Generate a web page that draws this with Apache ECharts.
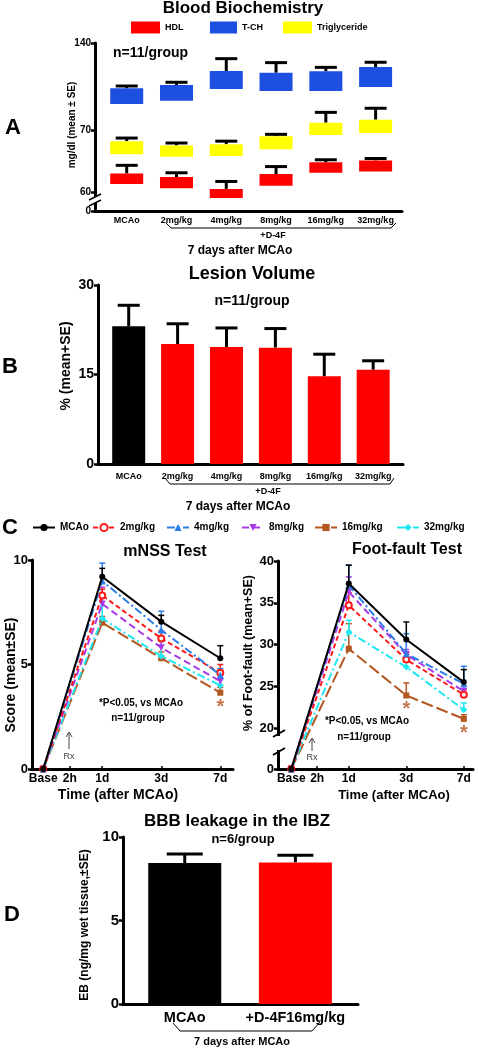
<!DOCTYPE html>
<html><head><meta charset="utf-8">
<script src="https://cdn.jsdelivr.net/npm/echarts@6/dist/echarts.min.js"></script>
<style>html,body{margin:0;padding:0;background:#fff}#c{width:478px;height:1050px}</style>
</head><body><div id="c"></div>
<script>
// ---------------- DATA ----------------
// Panel A: Blood biochemistry (floating boxes low..high, whisker = SE above)
const groupsA = ['MCAo', '2mg/kg', '4mg/kg', '8mg/kg', '16mg/kg', '32mg/kg'];
const hdlLow  = [61.3, 60.6, 41.0, 61.0, 63.1, 63.3];
const hdlHigh = [63.0, 62.4, 60.5, 62.9, 64.8, 65.1];
const hdlSE   = [1.3, 0.7, 1.2, 1.2, 0.4, 0.3];
const tchLow  = [90.9, 93.6, 103.0, 101.4, 101.4, 104.6];
const tchHigh = [103.5, 106.2, 117.5, 116.1, 117.2, 120.7];
const tchSE   = [1.9, 2.2, 9.9, 8.1, 3.2, 3.8];
const tgLow   = [66.1, 65.7, 65.8, 66.9, 69.2, 69.5];
const tgHigh  = [68.2, 67.5, 67.7, 69.0, 75.9, 78.3];
const tgSE    = [0.5, 0.4, 0.5, 0.3, 8.3, 9.2];
const ticksA  = [0, 60, 70, 140];

// Panel B: Lesion volume
const lesionMean = [23.1, 20.1, 19.6, 19.5, 14.7, 15.8];
const lesionSE   = [3.5, 3.4, 3.2, 3.2, 3.7, 1.5];
const ticksB     = [0, 15, 30];

// Panel C: time course
const groupsC    = ['MCAo', '2mg/kg', '4mg/kg', '8mg/kg', '16mg/kg', '32mg/kg'];
const timeLabels = ['Base', '2h', '1d', '3d', '7d'];
const timePos    = [0, 0.45, 1, 2, 3];
const sampleTimes = [0, 1, 2, 3];   // Base, 1d, 3d, 7d
const mnssMCAo = [0, 9.2, 7.05, 5.3];
const mnss2    = [0, 8.3, 6.25, 4.6];
const mnss4    = [0, 9.0, 6.65, 4.5];
const mnss8    = [0, 7.9, 5.8, 4.2];
const mnss16   = [0, 7.0, 5.3, 3.65];
const mnss32   = [0, 7.2, 5.4, 4.0];
const mnssSE_MCAo = [0, 0.4, 0.3, 0.6];
const mnssSE_2    = [0, 0.3, 0.35, 0.4];
const mnssSE_4    = [0, 0.85, 0.9, 0.3];
const mnssSE_8    = [0, 0.8, 0.4, 0.3];
const mnssSE_16   = [0, 0.3, 0.3, 0.25];
const mnssSE_32   = [0, 0.6, 0.7, 0.3];
const footMCAo = [0, 37.3, 30.6, 25.5];
const foot2    = [0, 34.7, 28.2, 24.0];
const foot4    = [0, 37.1, 28.9, 25.3];
const foot8    = [0, 36.3, 28.8, 24.4];
const foot16   = [0, 29.5, 23.9, 21.1];
const foot32   = [0, 31.5, 27.3, 22.2];
const footSE_MCAo = [0, 2.2, 2.1, 1.5];
const footSE_2    = [0, 1.5, 0.8, 0.6];
const footSE_4    = [0, 2.4, 2.4, 2.1];
const footSE_8    = [0, 1.8, 0.6, 0.6];
const footSE_16   = [0, 3.0, 1.5, 0.5];
const footSE_32   = [0, 1.4, 0.6, 0.8];
const ticksMnss = [0, 5, 10];
const ticksFoot = [0, 20, 25, 30, 35, 40];
const starsMnss = [[3, 3.2]];
const starsFoot = [[2, 22.8], [3, 20.0]];

// Panel D: BBB leakage
const groupsD = ['MCAo', '+D-4F16mg/kg'];
const ebMean  = [8.44, 8.48];
const ebSE    = [0.54, 0.42];
const ticksD  = [0, 5, 10];

// ---------------- HELPERS ----------------
const F = '"Liberation Sans", Arial, Helvetica, sans-serif';
// broken-axis scales: [value, display]
const A_SCALE = [[0, 0], [60, 19], [70, 81], [140, 168]];
const FOOT_SCALE = [[0, 15.1], [20, 20], [40, 40]];
function pw(v, s) {
  if (!s) return v;
  for (let i = 1; i < s.length; i++) {
    if (v <= s[i][0] || i === s.length - 1) {
      const [a0, b0] = s[i - 1], [a1, b1] = s[i];
      return b0 + (v - a0) * (b1 - b0) / (a1 - a0);
    }
  }
}
function lookup(vals, labels) {
  return v => { const i = vals.findIndex(d => Math.abs(d - v) < 1e-3); return i < 0 ? '' : String(labels[i]); };
}
function yAx(gi, min, max, ticks, scale, fs) {
  const disp = ticks.map(t => pw(t, scale));
  return {
    type: 'value', gridIndex: gi, min, max,
    axisLine: { show: true, onZero: false, lineStyle: { color: '#000', width: 3 } },
    axisTick: { show: true, customValues: disp, length: 4, lineStyle: { color: '#000', width: 2.5 } },
    axisLabel: { customValues: disp, formatter: lookup(disp, ticks), color: '#000', fontFamily: F, fontWeight: 'bold', fontSize: fs, margin: 4 },
    splitLine: { show: false }
  };
}
function xAx(gi, min, max, pos, labels, fs, margin, tick) {
  return {
    type: 'value', gridIndex: gi, min, max,
    axisLine: { show: true, onZero: false, lineStyle: { color: '#000', width: 3 } },
    axisTick: { show: !!tick, inside: true, length: 3, customValues: pos, lineStyle: { color: '#000', width: 1.5 } },
    axisLabel: { customValues: pos, formatter: lookup(pos, labels), color: '#000', fontFamily: F, fontWeight: 'bold', fontSize: fs, margin },
    splitLine: { show: false }
  };
}
function errBar(gi, pts, color, halfCap, lw, z) {
  return {
    type: 'custom', xAxisIndex: gi, yAxisIndex: gi, z: z || 3, silent: true, data: pts,
    renderItem: (p, api) => {
      const a = api.coord([api.value(0), api.value(1)]);
      const b = api.coord([api.value(0), api.value(2)]);
      return { type: 'group', children: [
        { type: 'line', shape: { x1: a[0], y1: a[1], x2: b[0], y2: b[1] }, style: { stroke: color, lineWidth: lw } },
        { type: 'line', shape: { x1: b[0] - halfCap, y1: b[1], x2: b[0] + halfCap, y2: b[1] }, style: { stroke: color, lineWidth: lw } }
      ] };
    }
  };
}
function boxSeries(name, lows, highs, color) {
  return {
    type: 'custom', name, xAxisIndex: 0, yAxisIndex: 0, z: 4, itemStyle: { color },
    data: lows.map((l, i) => [i, pw(l, A_SCALE), pw(highs[i], A_SCALE)]),
    renderItem: (p, api) => {
      const t = api.coord([api.value(0), api.value(2)]);
      const b = api.coord([api.value(0), api.value(1)]);
      return { type: 'rect', shape: { x: t[0] - 16.5, y: t[1], width: 33, height: b[1] - t[1] }, style: { fill: color } };
    }
  };
}

// ---------------- OPTION ----------------
const RED = '#ff0000', BLUE = '#1d4fe0', YEL = '#ffff00';
const series = [];
// A
series.push(boxSeries('T-CH', tchLow, tchHigh, BLUE));
series.push(boxSeries('Triglyceride', tgLow, tgHigh, YEL));
series.push(boxSeries('HDL', hdlLow, hdlHigh, RED));
[[tchHigh, tchSE], [tgHigh, tgSE], [hdlHigh, hdlSE]].forEach(([h, se]) => {
  series.push(errBar(0, h.map((v, i) => [i, pw(v, A_SCALE), pw(v + se[i], A_SCALE)]), '#000', 11, 3, 3));
});
// B
series.push({
  type: 'bar', xAxisIndex: 1, yAxisIndex: 1, barWidth: 33, z: 4,
  data: lesionMean.map((v, i) => ({ value: [i, v], itemStyle: { color: i === 0 ? '#000' : RED } }))
});
series.push(errBar(1, lesionMean.map((v, i) => [i, v, v + lesionSE[i]]), '#000', 11, 3, 3));
// C
const styleC = [
  { color: '#000000', dash: 'solid', symbol: 'circle', rot: 0, size: 6 },
  { color: '#ff1a1a', dash: [5, 3], symbol: 'emptyCircle', rot: 0, size: 6 },
  { color: '#2b7de9', dash: [8, 3, 2, 3], symbol: 'triangle', rot: 0, size: 7 },
  { color: '#a93ae8', dash: [7, 4], symbol: 'triangle', rot: 180, size: 7 },
  { color: '#b3561f', dash: [12, 4], symbol: 'rect', rot: 0, size: 6 },
  { color: '#1ee8f2', dash: [8, 3, 2, 3], symbol: 'diamond', rot: 0, size: 7 }
];
const mnssMeans = [mnssMCAo, mnss2, mnss4, mnss8, mnss16, mnss32];
const mnssSEs = [mnssSE_MCAo, mnssSE_2, mnssSE_4, mnssSE_8, mnssSE_16, mnssSE_32];
const footMeans = [footMCAo, foot2, foot4, foot8, foot16, foot32];
const footSEs = [footSE_MCAo, footSE_2, footSE_4, footSE_8, footSE_16, footSE_32];
const drawOrder = [4, 5, 3, 1, 2, 0];
[[2, mnssMeans, mnssSEs, null], [3, footMeans, footSEs, FOOT_SCALE]].forEach(([gi, means, ses, sc]) => {
  drawOrder.forEach((k, n) => {
    const st = styleC[k];
    series.push(errBar(gi, sampleTimes.slice(1).map((t, j) => [t, pw(means[k][j + 1], sc), pw(means[k][j + 1] + ses[k][j + 1], sc)]), st.color, 3, 1.5, 5 + n));
  });
  drawOrder.forEach((k, n) => {
    const st = styleC[k];
    series.push({
      type: 'line', name: groupsC[k], xAxisIndex: gi, yAxisIndex: gi, z: 12 + n,
      data: sampleTimes.map((t, j) => [t, pw(means[k][j], sc)]),
      symbol: st.symbol, symbolSize: st.size, symbolRotate: st.rot, showSymbol: true,
      lineStyle: { color: st.color, width: 2, type: st.dash },
      itemStyle: { color: st.color, borderColor: st.color, borderWidth: st.symbol === 'emptyCircle' ? 1.5 : 0 }
    });
  });
});
[[2, starsMnss, null], [3, starsFoot, FOOT_SCALE]].forEach(([gi, pts, sc]) => {
  series.push({
    type: 'scatter', xAxisIndex: gi, yAxisIndex: gi, symbolSize: 1, z: 30, silent: true,
    itemStyle: { color: 'rgba(0,0,0,0)' },
    label: { show: true, position: 'inside', formatter: '*', color: '#b3561f', fontSize: 20, fontWeight: 'bold', fontFamily: F, offset: [0, 5] },
    data: pts.map(p => [p[0], pw(p[1], sc)])
  });
});
// D
series.push({
  type: 'bar', xAxisIndex: 4, yAxisIndex: 4, barWidth: 73, z: 4,
  data: ebMean.map((v, i) => ({ value: [i, v], itemStyle: { color: i === 0 ? '#000' : RED } }))
});
series.push(errBar(4, ebMean.map((v, i) => [i, v, v + ebSE[i]]), '#000', 18, 3, 3));

// legends
const legText = (fs) => ({ color: '#000', fontFamily: F, fontWeight: 'bold', fontSize: fs });
const legends = [
  { data: ['HDL'], left: 131, top: 21.5, itemWidth: 29, itemHeight: 12, icon: 'rect', padding: 0, textStyle: legText(9) },
  { data: ['T-CH'], left: 210, top: 21.5, itemWidth: 27, itemHeight: 12, icon: 'rect', padding: 0, textStyle: legText(9) },
  { data: ['Triglyceride'], left: 283, top: 21.5, itemWidth: 29, itemHeight: 12, icon: 'rect', padding: 0, textStyle: legText(9) }
];
const legLeftC = [32, 92, 166, 241, 314, 396];
groupsC.forEach((g, k) => legends.push({
  data: [g], left: legLeftC[k], top: 522.5, itemWidth: 22, itemHeight: 9, padding: 0, textStyle: legText(10)
}));

// graphics
const G = [];
function T(text, x, y, fs, o) {
  o = o || {};
  G.push({ type: 'text', x, y, rotation: o.rot || 0, z: 100,
    style: { text, font: (o.w || 'bold') + ' ' + fs + 'px ' + F, fill: o.c || '#000', textAlign: o.a || 'center', textVerticalAlign: 'middle' } });
}
function L(pts, lw, c) { G.push({ type: 'polyline', z: 100, shape: { points: pts }, style: { stroke: c || '#000', lineWidth: lw, fill: null } }); }
function R(x, y, w, h) { G.push({ type: 'rect', z: 99, shape: { x, y, width: w, height: h }, style: { fill: '#fff' } }); }
const ROT = Math.PI / 2;
// panel letters
T('A', 13, 128, 22); T('B', 10, 367, 22); T('C', 10, 528, 22); T('D', 12, 915, 22);
// A
T('Blood Biochemistry', 243, 8, 17);
T('n=11/group', 113, 53, 14, { a: 'left' });
T('mg/dl (mean \u00b1 SE)', 72, 125, 10, { rot: ROT });
L([[166, 223], [171, 228], [391, 228], [396, 223]], 1);
T('+D-4F', 273, 235.5, 9);
T('7 days after MCAo', 240, 251, 12);
R(92, 197, 7, 6);
L([[89, 200], [101, 194]], 1.5); L([[89, 206], [101, 200]], 1.5);
// B
T('Lesion Volume', 252, 274, 18);
T('n=11/group', 252, 301, 14);
T('% (mean+SE)', 66, 366, 14, { rot: ROT });
L([[165, 478], [170, 484], [390, 484], [394, 478]], 1);
T('+D-4F', 268, 492, 9);
T('7 days after MCAo', 238, 507, 12);
// C
T('mNSS Test', 165, 552, 16);
T('Foot-fault Test', 407, 550, 16);
T('Score (mean\u00b1SE)', 11, 675, 14, { rot: ROT });
T('% of Foot-fault (mean+SE)', 249, 653, 12.5, { rot: ROT });
T('Time (after MCAo)', 118, 795, 14);
T('Time (after MCAo)', 394, 795, 13);
T('*P<0.05, vs MCAo', 141, 703, 10);
T('n=11/group', 138, 718, 10);
T('*P<0.05, vs MCAo', 367, 721, 10);
T('n=11/group', 364, 737, 10);
// Rx arrows
L([[69, 749], [69, 733]], 1, '#444'); L([[66, 737], [69, 732], [72, 737]], 1, '#444');
T('Rx', 69, 757, 9, { w: 'normal', c: '#444' });
L([[312, 751], [312, 739]], 1, '#444'); L([[309, 743], [312, 738], [315, 743]], 1, '#444');
T('Rx', 312, 758, 9, { w: 'normal', c: '#444' });
// foot-fault axis break
R(275, 736, 6, 14);
L([[273, 737], [285, 730]], 2); L([[273, 755], [285, 748]], 2);
// D
T('BBB leakage in the IBZ', 237, 821, 17);
T('n=6/group', 243, 839, 13);
T('EB (ng/mg wet tissue,\u00b1SE)', 85, 925, 12, { rot: ROT });
L([[173, 1023], [180, 1031], [312, 1031], [320, 1022]], 1);
T('7 days after MCAo', 242, 1042, 11);

const option = {
  animation: false,
  backgroundColor: '#fff',
  textStyle: { fontFamily: F },
  grid: [
    { left: 95, top: 43, width: 307, height: 168 },
    { left: 98, top: 285, width: 305, height: 179 },
    { left: 32, top: 560, width: 201, height: 209 },
    { left: 278, top: 561, width: 195, height: 208 },
    { left: 123, top: 837, width: 235, height: 167 }
  ],
  xAxis: [
    xAx(0, -0.637, 5.53, [0, 1, 2, 3, 4, 5], groupsA, 9, 5, false),
    xAx(1, -0.628, 5.61, [0, 1, 2, 3, 4, 5], groupsA, 9, 8, false),
    xAx(2, -0.19, 3.215, timePos, timeLabels, 12, 4, true),
    xAx(3, -0.231, 3.16, timePos, timeLabels, 12, 4, true),
    xAx(4, -0.558, 1.566, [0, 1], groupsD, 14.5, 6, false)
  ],
  yAxis: [
    yAx(0, 0, 168, ticksA, A_SCALE, 10),
    yAx(1, 0, 30, ticksB, null, 14),
    yAx(2, 0, 10, ticksMnss, null, 13),
    yAx(3, 15.1, 40, ticksFoot, FOOT_SCALE, 13),
    yAx(4, 0, 10, ticksD, null, 15)
  ],
  legend: legends,
  series,
  graphic: { elements: G }
};
const chart = echarts.init(document.getElementById('c'));
chart.setOption(option);
</script>
</body></html>
